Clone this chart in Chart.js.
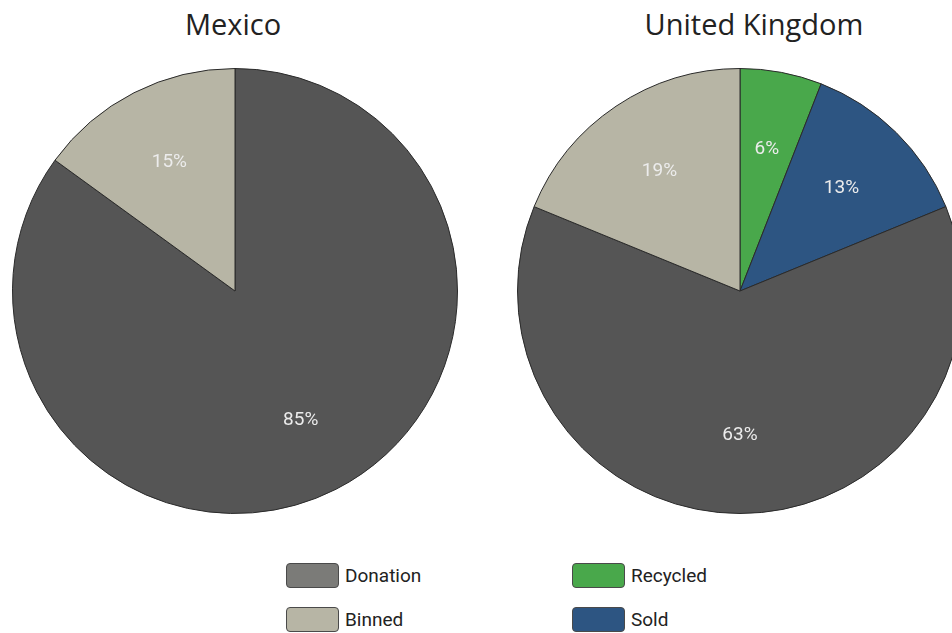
<!DOCTYPE html>
<html>
<head>
<meta charset="utf-8">
<script src="https://cdn.jsdelivr.net/npm/chart.js@4.4.1/dist/chart.umd.min.js"></script>
<style>
  html, body { margin: 0; padding: 0; background: #fff; overflow: hidden; }
  body { width: 952px; height: 633px; position: relative; }
  .box { position: absolute; top: 0; width: 470px; height: 514px; }
  .title { position: absolute; top: 4px; font: 29px "Open Sans", sans-serif; color: #222; transform: translateX(-50%); white-space: nowrap; }
  #legend { position: absolute; left: 286px; top: 562px; display: grid; grid-template-columns: 286px auto; row-gap: 18px; }
  .item { display: flex; align-items: center; height: 26px; font: 19px Roboto, sans-serif; color: #222; }
  .swatch { width: 51px; height: 23px; border: 1.5px solid #4a4a4a; border-radius: 4px; margin-right: 6px; }
</style>
</head>
<body>
<div class="title" style="left:233px">Mexico</div>
<div class="title" style="left:754px">United Kingdom</div>
<div class="box" style="left:0"><canvas id="mexico"></canvas></div>
<div class="box" style="left:505px"><canvas id="uk"></canvas></div>
<div id="legend"></div>
<script>
// slice data per country, clockwise from 12 o'clock
const mexicoLabels = ["Donation", "Binned"];
const mexicoValues = [85, 15];
const ukLabels = ["Recycled", "Sold", "Donation", "Binned"];
const ukValues = [6, 13, 63, 19];

// shared legend, row by row
const legendLabels = ["Donation", "Recycled", "Binned", "Sold"];

const sliceColors = {
  Donation: "#555555",
  Binned: "#b7b5a5",
  Recycled: "#49a84b",
  Sold: "#2d5582"
};
const swatchColors = {
  Donation: "#7b7b78",
  Binned: "#b7b5a5",
  Recycled: "#49a84b",
  Sold: "#2d5582"
};

// percent text inside each slice
const pctLabels = {
  id: "pctLabels",
  afterDatasetsDraw(chart) {
    const ctx = chart.ctx;
    const meta = chart.getDatasetMeta(0);
    const values = chart.data.datasets[0].data;
    ctx.save();
    ctx.font = '19px Roboto, sans-serif';
    ctx.fillStyle = "#ececec";
    ctx.textAlign = "center";
    ctx.textBaseline = "middle";
    meta.data.forEach((arc, i) => {
      const p = arc.getProps(["x", "y", "startAngle", "endAngle", "outerRadius"], true);
      const mid = (p.startAngle + p.endAngle) / 2;
      const r = p.outerRadius * 0.65;
      ctx.fillText(values[i] + "%", p.x + Math.cos(mid) * r, p.y + Math.sin(mid) * r);
    });
    ctx.restore();
  }
};

function makePie(id, labels, values) {
  return new Chart(document.getElementById(id), {
    type: "pie",
    data: {
      labels: labels,
      datasets: [{
        data: values,
        backgroundColor: labels.map(l => sliceColors[l]),
        borderColor: "#2a2a2a",
        borderWidth: 1
      }]
    },
    options: {
      responsive: true,
      maintainAspectRatio: false,
      animation: false,
      events: [],
      layout: { padding: { top: 68 } },
      plugins: { legend: { display: false }, tooltip: { enabled: false } }
    },
    plugins: [pctLabels]
  });
}

makePie("mexico", mexicoLabels, mexicoValues);
makePie("uk", ukLabels, ukValues);

const legend = document.getElementById("legend");
legendLabels.forEach(l => {
  const item = document.createElement("div");
  item.className = "item";
  const sw = document.createElement("div");
  sw.className = "swatch";
  sw.style.background = swatchColors[l];
  item.appendChild(sw);
  item.appendChild(document.createTextNode(l));
  legend.appendChild(item);
});
</script>
</body>
</html>
